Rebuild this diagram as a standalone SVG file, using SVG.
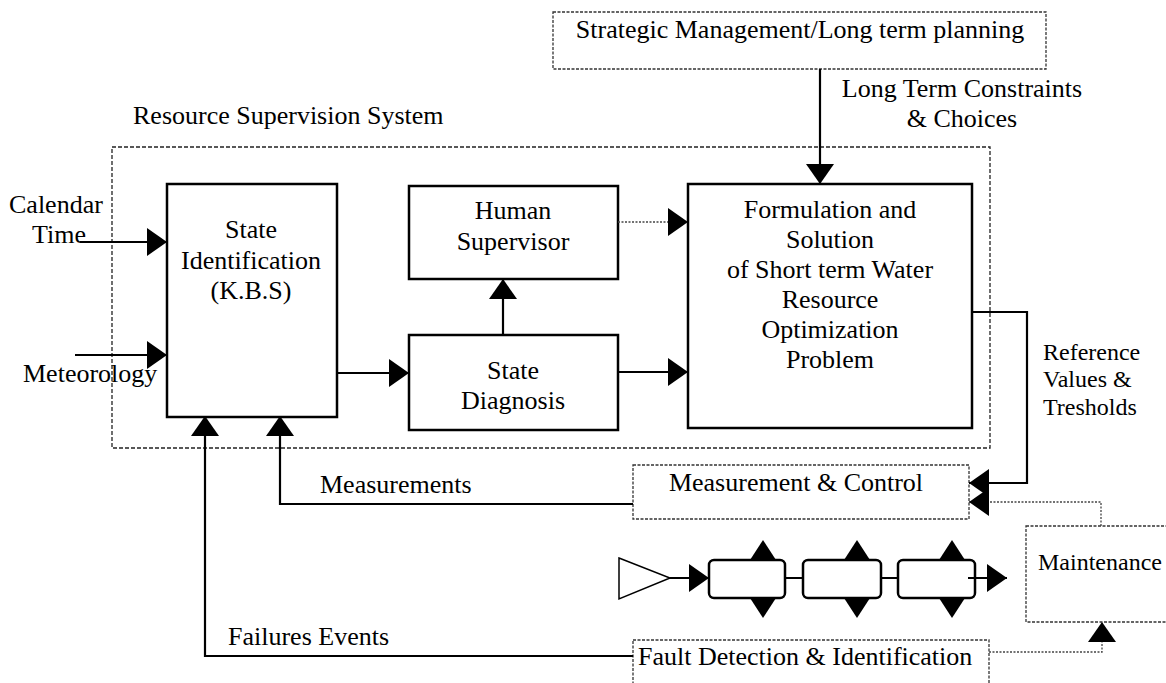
<svg xmlns="http://www.w3.org/2000/svg" width="1166" height="683" viewBox="0 0 1166 683">
<defs>
<style>
text{font-family:"Liberation Serif","Times New Roman",serif;font-size:26px;fill:#000}
.c{text-anchor:middle}
.solid{fill:#fff;stroke:#000;stroke-width:2.5}
.dot{fill:#fff;stroke:#333;stroke-width:1.3;stroke-dasharray:3 1.5}
.dash{fill:none;stroke:#222;stroke-width:1.3;stroke-dasharray:4 2}
.ln{fill:none;stroke:#000;stroke-width:2.2}
.dl{fill:none;stroke:#444;stroke-width:1.3;stroke-dasharray:2 1.5}
.tri{fill:#000;stroke:none}
</style>
<marker id="arr" markerUnits="userSpaceOnUse" viewBox="0 0 20 28" refX="20" refY="14" markerWidth="20" markerHeight="28" orient="auto">
<path d="M0,0 L20,14 L0,28 Z" fill="#000"/>
</marker>
</defs>
<rect width="1166" height="683" fill="#fff"/>

<g id="resource-supervision-system">
<rect class="dash" x="112" y="147" width="878" height="301"/>
<text x="133" y="124">Resource Supervision System</text>
</g>

<g id="strategic-management">
<rect class="dot" x="553" y="12" width="493" height="57"/>
<text class="c" x="800" y="38">Strategic Management/Long term planning</text>
</g>

<g id="state-identification">
<rect class="solid" x="167" y="184" width="170" height="233"/>
<text class="c" x="251" y="238">State</text>
<text class="c" x="251" y="269">Identification</text>
<text class="c" x="251" y="299">(K.B.S)</text>
</g>

<g id="human-supervisor">
<rect class="solid" x="409" y="186" width="209" height="93"/>
<text class="c" x="513" y="219">Human</text>
<text class="c" x="513" y="250">Supervisor</text>
</g>

<g id="state-diagnosis">
<rect class="solid" x="409" y="335" width="209" height="95"/>
<text class="c" x="513" y="379">State</text>
<text class="c" x="513" y="409">Diagnosis</text>
</g>

<g id="formulation">
<rect class="solid" x="688" y="184" width="284" height="244"/>
<text class="c" x="830" y="218">Formulation and</text>
<text class="c" x="830" y="248">Solution</text>
<text class="c" x="830" y="278">of Short term Water</text>
<text class="c" x="830" y="308">Resource</text>
<text class="c" x="830" y="338">Optimization</text>
<text class="c" x="830" y="368">Problem</text>
</g>

<g id="measurement-control">
<rect class="dot" x="633" y="465" width="336" height="54"/>
<text class="c" x="796" y="491">Measurement &amp; Control</text>
</g>

<g id="maintenance">
<rect class="dot" x="1026" y="526" width="150" height="96"/>
<text x="1038" y="570" style="font-size:24px">Maintenance</text>
</g>

<g id="fault-detection">
<rect class="dot" x="633" y="640" width="356" height="60"/>
<text x="638" y="665">Fault Detection &amp; Identification</text>
</g>

<g id="process">
<polygon points="619,558 670,578 619,599" fill="#fff" stroke="#000" stroke-width="1.5"/>
<polygon class="tri" points="750,560 763,540 776,560"/>
<polygon class="tri" points="844,560 857,540 870,560"/>
<polygon class="tri" points="939,560 952,540 965,560"/>
<polygon class="tri" points="750,598 763,618 776,598"/>
<polygon class="tri" points="844,598 857,618 870,598"/>
<polygon class="tri" points="939,598 952,618 965,598"/>
<rect x="709" y="560" width="76" height="38" rx="5" fill="#fff" stroke="#000" stroke-width="2.5"/>
<rect x="803" y="560" width="78" height="38" rx="5" fill="#fff" stroke="#000" stroke-width="2.5"/>
<rect x="898" y="560" width="77" height="38" rx="5" fill="#fff" stroke="#000" stroke-width="2.5"/>
</g>

<g id="connectors">
<path class="ln" d="M820,69 V184" marker-end="url(#arr)"/>
<path class="ln" d="M80,242 H167" marker-end="url(#arr)"/>
<path class="ln" d="M75,355 H167" marker-end="url(#arr)"/>
<path class="ln" d="M337,373 H409" marker-end="url(#arr)"/>
<path class="ln" d="M503,335 V279" marker-end="url(#arr)"/>
<path class="dl" d="M618,222 H688" marker-end="url(#arr)"/>
<path class="ln" d="M618,372 H688" marker-end="url(#arr)"/>
<path class="ln" d="M972,312 H1027 V483 H969" marker-end="url(#arr)"/>
<path class="dl" d="M1101,526 V502 H969" marker-end="url(#arr)"/>
<path class="ln" d="M633,504 H280 V416" marker-end="url(#arr)"/>
<path class="ln" d="M633,656 H205 V416" marker-end="url(#arr)"/>
<path class="dl" d="M989,652 H1102 V622" marker-end="url(#arr)"/>
<path class="ln" d="M670,578 H709" marker-end="url(#arr)"/>
<path class="ln" d="M785,578 H803 M881,578 H898"/>
<path class="ln" d="M968,578 H1007" marker-end="url(#arr)"/>
</g>

<g id="labels">
<text x="9" y="213">Calendar</text>
<text x="32" y="243">Time</text>
<text x="23" y="382">Meteorology</text>
<text class="c" x="962" y="97">Long Term Constraints</text>
<text class="c" x="962" y="127">&amp; Choices</text>
<text x="1043" y="360" style="font-size:24px">Reference</text>
<text x="1043" y="387" style="font-size:24px">Values &amp;</text>
<text x="1043" y="415" style="font-size:24px">Tresholds</text>
<text x="320" y="493">Measurements</text>
<text x="228" y="645">Failures Events</text>
</g>
</svg>
